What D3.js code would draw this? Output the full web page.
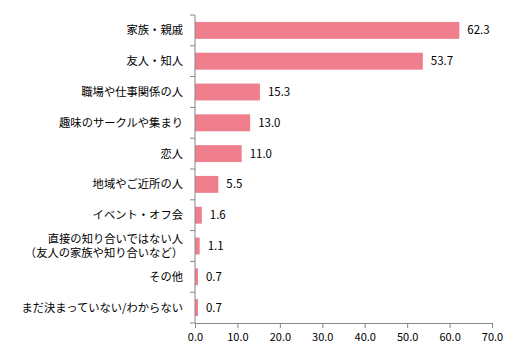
<!DOCTYPE html>
<html><head><meta charset="utf-8">
<script src="https://cdn.jsdelivr.net/npm/d3@7"></script>
<style>body{margin:0;background:#fff}svg{display:block}</style>
</head><body>
<script>
const categories = ["家族・親戚","友人・知人","職場や仕事関係の人","趣味のサークルや集まり","恋人","地域やご近所の人","イベント・オフ会","直接の知り合いではない人\n（友人の家族や知り合いなど）","その他","まだ決まっていない/わからない"];
const values = [62.3,53.7,15.3,13.0,11.0,5.5,1.6,1.1,0.7,0.7];
const xTicks = [0,10,20,30,40,50,60,70];

const W=529,H=349;
const svg=d3.select("body").append("svg").attr("width",W).attr("height",H);
const font="'Noto Sans CJK JP', sans-serif";
const x=d3.scaleLinear().domain([0,70]).range([195,492]);
const y=d3.scaleBand().domain(categories).range([15,323]).paddingInner(0.45).paddingOuter(0.225);
const axisColor="#868686";

svg.selectAll("rect.bar").data(values).join("rect")
  .attr("x",x(0)).attr("y",(d,i)=>y(categories[i]))
  .attr("width",d=>x(d)-x(0)).attr("height",y.bandwidth())
  .attr("fill","#F07F8E");

svg.selectAll("text.val").data(values).join("text")
  .attr("x",d=>x(d)+8).attr("y",(d,i)=>y(categories[i])+y.bandwidth()/2)
  .attr("dy","0.35em").attr("font-family",font).attr("font-size",11.5).attr("fill","#000")
  .text(d=>d.toFixed(1));

// y axis
const step=(323-15)/categories.length;
const yg=svg.append("g");
yg.append("line").attr("x1",x(0)).attr("x2",x(0)).attr("y1",15).attr("y2",323).attr("stroke",axisColor);
d3.range(categories.length+1).forEach(i=>{
  yg.append("line").attr("x1",x(0)-5).attr("x2",x(0)).attr("y1",15+i*step).attr("y2",15+i*step).attr("stroke",axisColor);
});
categories.forEach((c,i)=>{
  const lines=c.split("\n");
  const cy=y(c)+y.bandwidth()/2;
  lines.forEach((l,j)=>{
    yg.append("text").attr("text-anchor","end").attr("font-family",font).attr("font-size",11.3).attr("fill","#000")
      .attr("x",183).attr("y",cy+(j-(lines.length-1)/2)*13.5).attr("dy","0.35em").text(l);
  });
});

// x axis
const xAxis=d3.axisBottom(x).tickValues(xTicks).tickSize(5).tickFormat(d3.format(".1f"));
const xg=svg.append("g").attr("transform","translate(0,323)").call(xAxis);
xg.select(".domain").attr("stroke",axisColor);
xg.selectAll(".tick line").attr("stroke",axisColor);
xg.selectAll(".tick text").attr("font-family",font).attr("font-size",11).attr("fill","#000").attr("dy","0.9em");
</script>
</body></html>
